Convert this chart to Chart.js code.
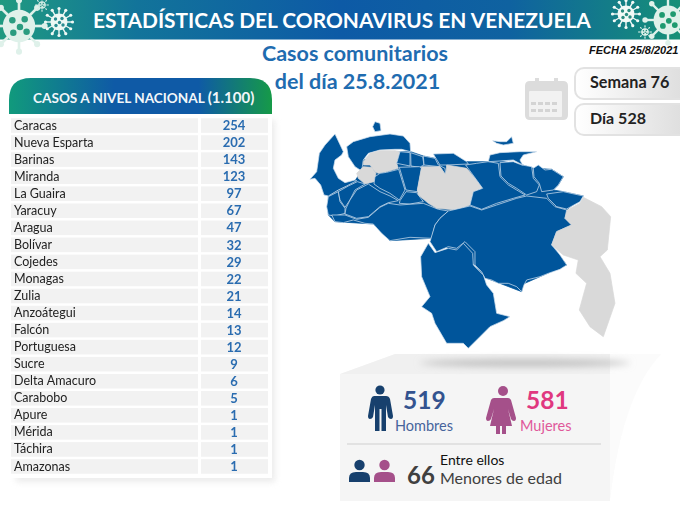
<!DOCTYPE html>
<html lang="es"><head><meta charset="utf-8">
<script src="https://cdn.jsdelivr.net/npm/chart.js@4"></script>
<style>
html,body{margin:0;padding:0;background:#fff;overflow:hidden}
#page{position:relative;width:680px;height:514px;overflow:hidden;font-family:Lato,sans-serif}
.t{position:absolute;white-space:nowrap;line-height:1}
svg{position:absolute;left:0;top:0}
canvas{position:absolute}
</style></head><body>
<div id="page">
<svg id="deco" width="680" height="514" viewBox="0 0 680 514">
<defs>
<linearGradient id="ban" x1="0" x2="1" y1="0" y2="0"><stop offset="0" stop-color="#1f9a80"/><stop offset=".2" stop-color="#12749a"/><stop offset=".5" stop-color="#0d5aa6"/><stop offset=".75" stop-color="#0f62a0"/><stop offset="1" stop-color="#169077"/></linearGradient>
<linearGradient id="hdr" x1="0" x2="1" y1="0" y2="0"><stop offset="0" stop-color="#119a7c"/><stop offset=".4" stop-color="#0f5aa6"/><stop offset=".72" stop-color="#0f5aa6"/><stop offset="1" stop-color="#169a48"/></linearGradient>
<linearGradient id="box" x1="0" x2="1" y1="0" y2="0"><stop offset="0" stop-color="#ffffff"/><stop offset="1" stop-color="#dcdcdc"/></linearGradient>
<filter id="soft" x="-20%" y="-20%" width="140%" height="140%"><feGaussianBlur stdDeviation="3"/></filter>
<filter id="soft2" x="-20%" y="-200%" width="140%" height="500%"><feGaussianBlur stdDeviation="3.5"/></filter>
</defs>
<rect x="0" y="0" width="680" height="39.5" fill="url(#ban)"/>
<g id="virus"></g>

<rect x="16" y="120" width="259" height="362" fill="#dcdcdc" opacity=".55" filter="url(#soft)"/>
<rect x="9" y="112" width="263" height="366" fill="#fff"/>
<path d="M9 114V100Q9 78 31 78H250Q272 78 272 100V114Z" fill="url(#hdr)"/>

<g fill="#dcdcdc"><path d="M525 86q0-5 5-5h5v-3h4v3h15v-3h4v3h5q5 0 5 5v29q0 5-5 5h-33q-5 0-5-5z"/></g>
<g fill="#f2f2f2"><rect x="529" y="91" width="33" height="26" rx="1"/></g>
<g fill="#d4d4d4"><rect x="531" y="102" width="5" height="3"/><rect x="538" y="102" width="5" height="3"/><rect x="545" y="102" width="5" height="3"/><rect x="552" y="102" width="5" height="3"/><rect x="531" y="109" width="5" height="3"/><rect x="538" y="109" width="5" height="3"/><rect x="545" y="109" width="5" height="3"/><rect x="552" y="109" width="5" height="3"/></g>
<rect x="575" y="68" width="115" height="31" rx="9" fill="url(#box)" stroke="#e2e2e2" stroke-width="2"/>
<rect x="575" y="104" width="115" height="31" rx="9" fill="url(#box)" stroke="#e2e2e2" stroke-width="2"/>

<g transform="translate(300 110) scale(.3333)" stroke="#cfe0ee" stroke-width="2.2" stroke-linejoin="round">
<g id="map"></g>
</g>

<path d="M340 374L395 354H661Q622 395 610 500H340Z" fill="#fbfbfb"/>
<rect x="340" y="374" width="270" height="127" fill="#f5f5f5"/>
<path d="M340 374L395 354H610V374Z" fill="#f0f0f0"/>
<path d="M610 354H661Q622 395 610 500Z" fill="#fbfbfb"/>
<ellipse cx="525" cy="363" rx="105" ry="3.5" fill="#bdbdbd" filter="url(#soft2)"/>

<g fill="#17406d">
<circle cx="380" cy="390" r="4.6"/>
<path d="M374 396h12q3 0 4 3l3 17q0 3-2 3t-3-2l-2-12v26h-4.500v-22h-2v22h-4.500v-26l-2 12q-1 2-3 2t-2-3l3-17q1-3 3-3z"/>
</g>
<g fill="#a5508a">
<circle cx="503" cy="391" r="5"/>
<path d="M498 398h10q2 0 3 2l5 18q0 3-2 3t-3-2l-3-10 4 17h-6v8h-4v-8h-2v8h-4v-8h-6l4-17-3 10q-1 2-3 2t-2-3l5-18q1-2 3-2z"/>
</g>
<line x1="347" x2="601" y1="444" y2="444" stroke="#cfcfcf" stroke-width="1"/>
<g fill="#17406d"><circle cx="359.500" cy="465" r="5.200"/><path d="M349 482v-4q0-6 7-6h7q7 0 7 6v4z"/></g>
<g fill="#a5508a"><circle cx="384.500" cy="465" r="5.200"/><path d="M374 482v-4q0-6 7-6h7q7 0 7 6v4z"/></g>
</svg>

<canvas id="tabla" width="290" height="358" style="left:0;top:116.500px;width:290px;height:358px"></canvas>

<div class="t" style="left:93px;top:10px;font-size:20.900px;font-weight:700;color:#fff" id="tt">ESTADÍSTICAS DEL CORONAVIRUS EN VENEZUELA</div>
<div class="t" style="left:255px;width:200px;top:43px;text-align:center;font-size:21.500px;font-weight:700;color:#1f6cb0">Casos comunitarios</div>
<div class="t" style="left:255px;width:205px;top:71px;text-align:center;font-size:21.500px;font-weight:700;color:#1f6cb0">del día 25.8.2021</div>
<div class="t" style="left:589px;top:45px;font-family:'Liberation Sans';font-style:italic;font-weight:700;font-size:11px;color:#111">FECHA 25/8/2021</div>
<div class="t" style="left:590px;top:74px;font-size:16.200px;font-weight:700;color:#222">Semana 76</div>
<div class="t" style="left:590px;top:110px;font-size:16px;font-weight:700;color:#222">Día 528</div>
<div class="t" style="left:33px;top:90px;font-size:13.600px;font-weight:700;color:#f2f6fa" id="hd">CASOS A NIVEL NACIONAL <span style="font-size:15px">(1.100)</span></div>
<div class="t" style="left:403px;top:388px;font-size:24.500px;font-weight:700;color:#33538f">519</div>
<div class="t" style="left:395px;top:419px;font-size:14.500px;color:#47649c">Hombres</div>
<div class="t" style="left:526px;top:388px;font-size:24.500px;font-weight:700;color:#e0387f">581</div>
<div class="t" style="left:520px;top:419px;font-size:14.500px;color:#e0589a">Mujeres</div>
<div class="t" style="left:407px;top:463px;font-size:24px;font-weight:700;color:#404040">66</div>
<div class="t" style="left:440px;top:453px;font-size:14px;color:#111">Entre ellos</div>
<div class="t" style="left:440px;top:470px;font-size:16px;color:#404040">Menores de edad</div>
</div>
<script>
const categorias=["Caracas","Nueva Esparta","Barinas","Miranda","La Guaira","Yaracuy","Aragua","Bolívar","Cojedes","Monagas","Zulia","Anzoátegui","Falcón","Portuguesa","Sucre","Delta Amacuro","Carabobo","Apure","Mérida","Táchira","Amazonas"];
const casos=[254,202,143,123,97,67,47,32,29,22,21,14,13,12,9,6,5,1,1,1,1];

const celdas={id:'celdas',
 beforeDraw(c){const y=c.scales.y,g=c.ctx;g.save();g.fillStyle='#f2f2f2';
  categorias.forEach((_,i)=>{const p=y.getPixelForTick(i);g.fillRect(11,p-7.3,187,14.6);g.fillRect(201,p-7.3,67,14.6);});g.restore();},
 afterDatasetsDraw(c){const y=c.scales.y,g=c.ctx;g.save();g.fillStyle='#2a6cb0';g.font='700 13px Lato';g.textAlign='center';g.textBaseline='middle';
  c.data.datasets[0].data.forEach((v,i)=>g.fillText(String(v),234,y.getPixelForTick(i)+.5));g.restore();}};
new Chart(document.getElementById('tabla'),{type:'bar',plugins:[celdas],
 data:{labels:categorias,datasets:[{label:'Casos',data:casos,backgroundColor:'rgba(0,0,0,0)',borderWidth:0}]},
 options:{indexAxis:'y',responsive:false,animation:false,layout:{padding:{left:14,top:0,bottom:0,right:0}},
  plugins:{legend:{display:false},tooltip:{enabled:false},title:{display:false}},
  scales:{x:{display:false,min:0,max:300},
   y:{position:'left',afterFit(s){s.width=184;s.paddingTop=0;s.paddingBottom=0},grid:{display:false},border:{display:false},
      ticks:{crossAlign:'far',padding:0,autoSkip:false,color:'#222',font:{family:'Lato',size:12.5}}}}}});

const NS='http://www.w3.org/2000/svg';
const azul='#00559b',gris='#d9d9d9';
const mapa=[
["base","85,258 140,228 165,212 180,190 190,150 300,125 332,125 370,138 405,145 500,155 565,155 600,153 668,165 700,175 755,178 790,200 775,225 760,240 790,245 850,258 800,300 795,325 815,345 770,365 755,405 800,465 670,522 665,545 560,505 525,465 395,385 270,392 220,342 105,335 85,315"],
[azul,"30,208 50,185 58,130 75,105 105,72 130,125 125,135 105,150 100,175 115,205 135,218 165,210 170,212 140,228 115,240 85,258 72,255 62,225 45,205"],
[azul,"140,110 160,95 210,80 270,72 310,78 330,100 332,125 305,118 285,118 240,120 205,130 190,150 185,183 165,170 145,140"],
[azul,"218,50 225,35 240,40 243,62 225,65"],
[gris,"190,155 210,130 240,122 285,122 300,125 290,160 295,175 260,185 235,190 225,185 210,165 190,165"],
[gris,"170,190 190,170 215,172 228,190 222,215 195,222 175,205"],
[azul,"290,160 300,125 330,128 330,168"],
[azul,"332,128 368,140 372,165 358,172 333,168"],
[azul,"370,138 405,145 415,165 435,175 437,195 420,170 372,165"],
[azul,"400,132 460,130 500,155 505,162 440,165 420,165 405,140"],
[azul,"85,260 115,245 120,275 135,295 135,310 105,318 85,315 80,290"],
[azul,"115,245 145,228 172,215 195,222 165,240 150,270 135,292 120,270"],
[azul,"138,295 150,270 170,240 205,222 240,245 270,258 295,272 265,278 240,290 205,320 170,325 135,312"],
[azul,"225,200 240,190 260,187 296,178 315,240 298,270 270,250 240,235 222,222"],
[azul,"298,172 358,170 365,175 352,245 318,240"],
[azul,"300,272 318,245 350,248 370,275 330,282 298,280"],
[azul,"95,315 135,315 170,328 205,322 240,292 265,280 300,285 370,280 415,298 445,303 420,325 405,345 395,385 330,382 270,392 245,370 220,342 195,340 160,330 130,338 105,335"],
[gris,"352,240 365,170 420,170 437,195 440,165 500,175 530,210 548,235 520,245 510,285 470,300 410,295 385,280 355,255"],
[azul,"497,165 530,160 565,155 595,160 600,200 625,225 650,240 675,255 640,265 590,280 545,298 510,285 520,245 548,235 530,210"],
[azul,"600,158 640,155 665,165 695,170 700,205 718,225 710,245 680,255 650,235 625,220 603,198"],
[azul,"700,175 715,165 735,180 755,178 790,200 775,225 760,240 725,245 718,220 702,200"],
[azul,"565,155 570,135 600,128 660,125 710,125 670,135 660,150 668,165 640,150 600,153"],
[azul,"578,92 600,95 620,95 635,80 640,100 610,105 590,100"],
[azul,"740,252 790,245 850,258 840,275 800,297 770,290 745,265"],
[azul,"445,303 510,288 545,300 590,285 650,265 680,258 740,265 765,290 800,300 795,325 815,345 770,365 755,405 780,435 800,465 780,478 745,490 720,500 680,510 672,525 665,545 650,530 625,520 595,520 575,510 555,505 545,485 525,465 525,425 495,395 470,415 445,410 410,425 390,395 405,345 420,325"],
[azul,"385,400 405,428 445,415 470,420 490,400 518,430 520,465 550,495 560,525 580,550 590,610 630,620 610,632 570,650 540,680 505,715 490,700 440,700 405,640 395,610 365,590 390,560 365,500 362,440"],
[gris,"850,262 905,290 932,320 922,420 900,440 930,490 945,580 910,680 870,650 838,600 860,520 828,490 835,450 790,435 755,405 770,365 815,345 795,325 802,300 840,280"]
];
const m=document.getElementById('map');
mapa.forEach(([f,p])=>{const e=document.createElementNS(NS,'polygon');e.setAttribute('points',p);
 if(f==='base'){e.setAttribute('fill',azul);e.setAttribute('stroke',azul);}
 else{e.setAttribute('fill',f);if(f===gris)e.setAttribute('stroke',gris);}
 m.appendChild(e);});

function virus(cx,cy,r,col,hole,n){const v=document.getElementById('virus');let s='';
 for(let i=0;i<n;i++){const a=i*2*Math.PI/n,c=Math.cos(a),d=Math.sin(a);
  const x1=cx+c*r*.6,y1=cy+d*r*.6,x2=cx+c*r*1.35,y2=cy+d*r*1.35;
  s+=`<line x1="${x1}" y1="${y1}" x2="${x2}" y2="${y2}" stroke="${col}" stroke-width="${r*.14}"/><circle cx="${x2}" cy="${y2}" r="${r*.16}" fill="${col}"/>`;}
 s+=`<circle cx="${cx}" cy="${cy}" r="${r*.85}" fill="${col}"/>`;
 [[-.35,-.3],[.3,-.35],[.05,.05],[-.3,.35],[.4,.3]].forEach(([a,b])=>{s+=`<circle cx="${cx+a*r}" cy="${cy+b*r}" r="${r*.17}" fill="${hole}"/>`;});
 v.insertAdjacentHTML('beforeend',s);}
virus(19,26,19,'#dff1ea','#2a9c80',8);
virus(59,22,10,'#eef8f4','#2a8c90',12);
virus(42,5,4.500,'#cfe8e2','#3a9c90',8);
virus(626,14,10,'#f2faf7','#2a8c80',12);
virus(645,32,4.500,'#e0f2ec','#2a9080',8);
virus(668,20,17,'#dff1ea','#1f9a70',8);
</script>
</body></html>
